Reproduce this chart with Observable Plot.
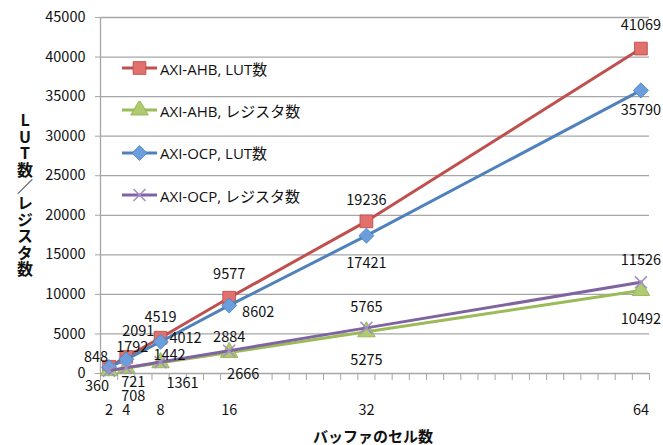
<!DOCTYPE html>
<html><head><meta charset="utf-8">
<script src="https://cdn.jsdelivr.net/npm/d3@7"></script>
<script src="https://cdn.jsdelivr.net/npm/@observablehq/plot@0.6"></script>
<style>
body{margin:0;background:#fff;}
#wrap{position:relative;width:663px;height:445px;font-family:"Noto Sans CJK JP",sans-serif;color:#111;}
#ytitle{position:absolute;left:16px;top:112px;writing-mode:vertical-rl;text-orientation:upright;font-weight:bold;font-size:16px;line-height:18px;letter-spacing:0.6px;}
#xtitle{position:absolute;left:313px;top:427px;font-weight:bold;font-size:15px;line-height:18px;letter-spacing:0px;white-space:nowrap;}
#legend{position:absolute;left:120px;top:47px;}
.lrow{display:flex;align-items:center;height:42.3px;margin:0;font-size:15px;font-family:"Open Sans","Noto Sans CJK JP",sans-serif;}
.lrow svg{margin-right:2px;}
</style>
</head><body>
<div id="wrap">
<div id="chart"></div>
<div id="ytitle">LUT数／レジスタ数</div>
<div id="xtitle">バッファのセル数</div>
<div id="legend"></div>
</div>
<script>
// ---- data ----
const xs = [2, 4, 8, 16, 32, 64];
const ahbLut = [848, 2091, 4519, 9577, 19236, 41069];
const ahbReg = [360, 708, 1361, 2666, 5275, 10492];
const ocpLut = [800, 1792, 4012, 8602, 17421, 35790];
const ocpReg = [365, 721, 1442, 2884, 5765, 11526];
const seriesNames = ["AXI-AHB, LUT数", "AXI-AHB, レジスタ数", "AXI-OCP, LUT数", "AXI-OCP, レジスタ数"];
const xTickLabels = [2, 4, 8, 16, 32, 64];
const yTicks = [0, 5000, 10000, 15000, 20000, 25000, 30000, 35000, 40000, 45000];
// which points carry a value label
const ahbLutLabeled = [true, true, true, true, true, true];
const ahbRegLabeled = [true, true, true, true, true, true];
const ocpLutLabeled = [false, true, true, true, true, true];
const ocpRegLabeled = [false, true, true, true, true, true];

// ---- styles / layout ----
const styles = [
  {line: "#C0504D", fill: "#E2706D", stroke: "#B54643", symbol: "square", r: 7.2},
  {line: "#9BBB59", fill: "#AFCB6F", stroke: "#8DAE4B", symbol: "triangle", r: 6.5},
  {line: "#4F81BD", fill: "#6A9EDC", stroke: "#4A7DBB", symbol: "diamond2", r: 6.8},
  {line: "#8064A2", fill: "none", stroke: "#A390C4", symbol: "times", r: 5.5}
];
const labelOffsets = [
  [[-13, -9], [12, -26], [0, -20], [0, -23], [0, -21], [0, -23]],
  [[-12, 16], [7, 28], [22, 21], [14, 22], [0, 29], [0, 29]],
  [[0, 0], [6, -12], [25, -3], [29, 7], [0, 28], [0, 20]],
  [[0, 0], [7, 15], [9, -7], [0, -13], [0, -21], [0, -22]]
];

const valuesList = [ahbLut, ahbReg, ocpLut, ocpReg];
const labeledList = [ahbLutLabeled, ahbRegLabeled, ocpLutLabeled, ocpRegLabeled];
const series = valuesList.map((vals, s) => xs.map((x, i) => ({x, y: vals[i], s, i, lab: labeledList[s][i]})));

const FONT = 14.5;
const marks = [
  Plot.ruleY(yTicks, {stroke: "#a6a6a6", strokeWidth: 1.3}),
  Plot.ruleX([1], {stroke: "#a6a6a6", strokeWidth: 1.3}),
  Plot.axisY({ticks: yTicks, tickSize: 5, tickPadding: 10, tickFormat: d => String(d), label: null, fontSize: FONT, stroke: "#a6a6a6", fill: "#111"}),
  Plot.axisX({ticks: d3.range(1, 66, 2), tickSize: 7, tickFormat: () => "", label: null, stroke: "#a6a6a6"}),
  Plot.axisX({ticks: xTickLabels, tickSize: 0, tickPadding: 31, tickFormat: d => String(d), label: null, fontSize: FONT, fill: "#111"})
];
series.forEach((data, s) => {
  const st = styles[s];
  marks.push(Plot.line(data, {x: "x", y: "y", stroke: st.line, strokeWidth: 3}));
  if (st.symbol === "times") {
    marks.push(Plot.dot(data, {x: "x", y: "y", symbol: st.symbol, r: st.r, stroke: st.stroke, strokeWidth: 1.6, fill: "none"}));
  } else {
    marks.push(Plot.dot(data, {x: "x", y: "y", symbol: st.symbol, r: st.r, fill: st.fill, stroke: st.stroke, strokeWidth: 0.8}));
  }
});
series.forEach((data, s) => {
  data.forEach(d => {
    if (!d.lab) return;
    const [dx, dy] = labelOffsets[s][d.i];
    marks.push(Plot.text([d], {x: "x", y: "y", text: d => String(d.y), dx, dy, fontSize: FONT, fill: "#111"}));
  });
});

const chart = Plot.plot({
  width: 663, height: 445,
  marginLeft: 100, marginRight: 14, marginTop: 17, marginBottom: 72,
  style: {fontFamily: '"Noto Sans CJK JP", sans-serif', background: "#fff", color: "#111"},
  x: {domain: [1, 65], axis: null},
  y: {domain: [0, 45000], axis: null},
  marks
});
document.getElementById("chart").appendChild(chart);

// legend
const leg = document.getElementById("legend");
seriesNames.forEach((name, s) => {
  const st = styles[s];
  const row = document.createElement("div");
  row.className = "lrow";
  const sym = {square: d3.symbolSquare, triangle: d3.symbolTriangle, diamond2: d3.symbolDiamond2, times: d3.symbolTimes}[st.symbol];
  const path = d3.symbol(sym, Math.PI * st.r * st.r)();
  const svgNS = "http://www.w3.org/2000/svg";
  const svg = document.createElementNS(svgNS, "svg");
  svg.setAttribute("width", 38); svg.setAttribute("height", 18);
  const ln = document.createElementNS(svgNS, "line");
  ln.setAttribute("x1", 2); ln.setAttribute("x2", 37); ln.setAttribute("y1", 9); ln.setAttribute("y2", 9);
  ln.setAttribute("stroke", st.line); ln.setAttribute("stroke-width", 3);
  svg.appendChild(ln);
  const p = document.createElementNS(svgNS, "path");
  p.setAttribute("d", path); p.setAttribute("transform", "translate(19.5,9)");
  if (st.symbol === "times") { p.setAttribute("fill", "none"); p.setAttribute("stroke", st.stroke); p.setAttribute("stroke-width", 1.6); }
  else { p.setAttribute("fill", st.fill); p.setAttribute("stroke", st.stroke); p.setAttribute("stroke-width", 0.8); }
  svg.appendChild(p);
  row.appendChild(svg);
  const t = document.createElement("span");
  t.textContent = name;
  row.appendChild(t);
  leg.appendChild(row);
});
</script>
</body></html>
